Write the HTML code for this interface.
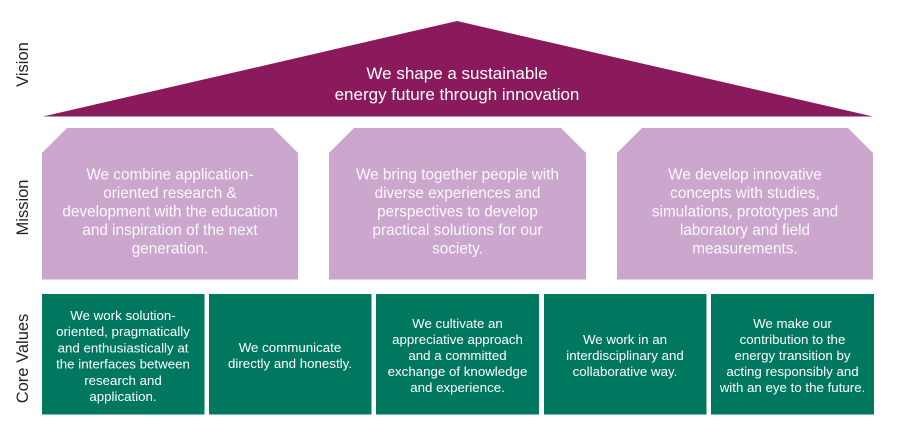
<!DOCTYPE html>
<html>
<head>
<meta charset="utf-8">
<style>
  html,body{margin:0;padding:0;background:#fff;}
  svg{display:block;}
  text{font-family:"Liberation Sans", Arial, sans-serif;}
</style>
</head>
<body>
<svg width="900" height="435" viewBox="0 0 900 435" xmlns="http://www.w3.org/2000/svg">
  <!-- side labels -->
  <g fill="#222" font-size="16.5" text-anchor="middle">
    <text transform="translate(28,64.5) rotate(-90)">Vision</text>
    <text transform="translate(28,207.5) rotate(-90)">Mission</text>
    <text transform="translate(28,358.5) rotate(-90)">Core Values</text>
  </g>

  <!-- Vision roof -->
  <polygon points="43,116.5 457,21 873,116.5" fill="#8B1A5D"/>
  <g fill="#fff" font-size="17" text-anchor="middle">
    <text x="457" y="79">We shape a sustainable</text>
    <text x="457" y="100">energy future through innovation</text>
  </g>

  <!-- Mission boxes -->
  <g fill="#CBA6CD">
    <polygon points="42,153 67,128 273,128 298,153 298,279.5 42,279.5"/>
    <polygon points="329,153 354,128 561,128 586,153 586,279.5 329,279.5"/>
    <polygon points="617,153 642,128 848,128 873,153 873,279.5 617,279.5"/>
  </g>
  <g fill="#fdf9fd" font-size="15.3" text-anchor="middle">
    <text x="170" y="179.5">We combine application-</text>
    <text x="170" y="198">oriented research &amp;</text>
    <text x="170" y="216.5">development with the education</text>
    <text x="170" y="235">and inspiration of the next</text>
    <text x="170" y="253.5">generation.</text>

    <text x="457.5" y="179.5">We bring together people with</text>
    <text x="457.5" y="198">diverse experiences and</text>
    <text x="457.5" y="216.5">perspectives to develop</text>
    <text x="457.5" y="235">practical solutions for our</text>
    <text x="457.5" y="253.5">society.</text>

    <text x="745" y="179.5">We develop innovative</text>
    <text x="745" y="198">concepts with studies,</text>
    <text x="745" y="216.5">simulations, prototypes and</text>
    <text x="745" y="235">laboratory and field</text>
    <text x="745" y="253.5">measurements.</text>
  </g>

  <!-- Core values boxes -->
  <g fill="#00785F">
    <rect x="42" y="294" width="162.5" height="120.5"/>
    <rect x="209" y="294" width="162.5" height="120.5"/>
    <rect x="376" y="294" width="163" height="120.5"/>
    <rect x="544" y="294" width="162.5" height="120.5"/>
    <rect x="711" y="294" width="163" height="120.5"/>
  </g>
  <g fill="#fff" font-size="13.3" text-anchor="middle">
    <text x="123" y="320">We work solution-</text>
    <text x="123" y="336.2">oriented, pragmatically</text>
    <text x="123" y="352.4">and enthusiastically at</text>
    <text x="123" y="368.6">the interfaces between</text>
    <text x="123" y="384.8">research and</text>
    <text x="123" y="401">application.</text>

    <text x="290" y="352">We communicate</text>
    <text x="290" y="368">directly and honestly.</text>

    <text x="457.5" y="328">We cultivate an</text>
    <text x="457.5" y="344">appreciative approach</text>
    <text x="457.5" y="360">and a committed</text>
    <text x="457.5" y="376">exchange of knowledge</text>
    <text x="457.5" y="392">and experience.</text>

    <text x="625" y="344">We work in an</text>
    <text x="625" y="360">interdisciplinary and</text>
    <text x="625" y="376">collaborative way.</text>

    <text x="792.5" y="328">We make our</text>
    <text x="792.5" y="344">contribution to the</text>
    <text x="792.5" y="360">energy transition by</text>
    <text x="792.5" y="376">acting responsibly and</text>
    <text x="792.5" y="392">with an eye to the future.</text>
  </g>
</svg>
</body>
</html>
